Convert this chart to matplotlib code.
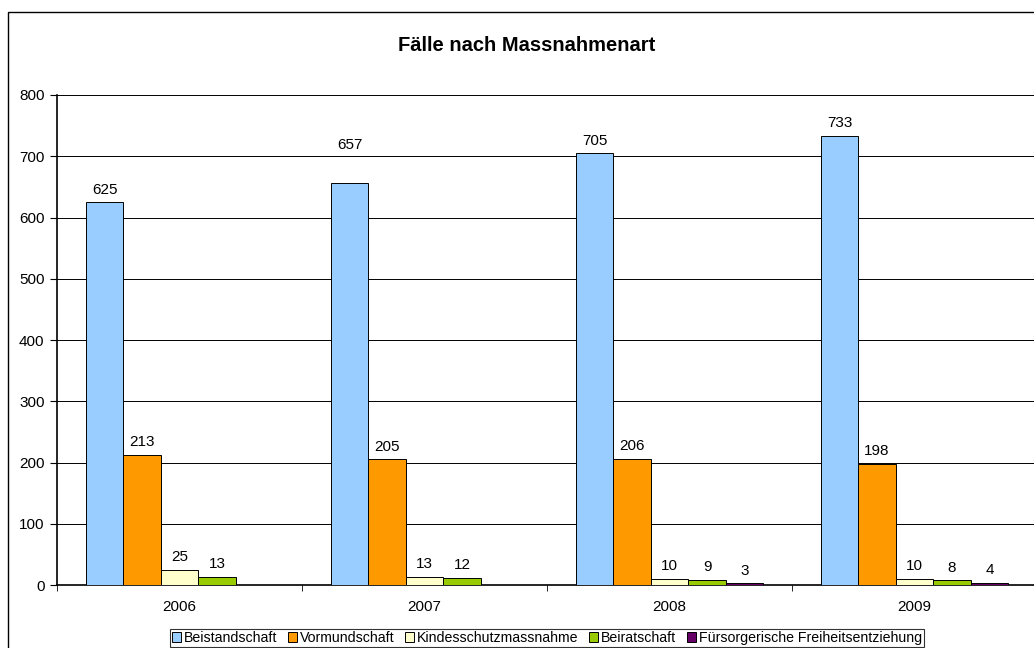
import numpy as np
import matplotlib
matplotlib.use("Agg")
import matplotlib.pyplot as plt
from matplotlib.patches import Rectangle

plt.rcParams['font.family'] = ['Liberation Sans', 'DejaVu Sans']

# data
years = ['2006', '2007', '2008', '2009']
series = ['Beistandschaft', 'Vormundschaft', 'Kindesschutzmassnahme',
          'Beiratschaft', 'Fürsorgerische Freiheitsentziehung']
beistandschaft = [625, 657, 705, 733]
vormundschaft = [213, 205, 206, 198]
kindesschutz = [25, 13, 10, 10]
beiratschaft = [13, 12, 9, 8]
ffe = [0, 0, 3, 4]
colors = ['#99CCFF', '#FF9900', '#FFFFCC', '#99CC00', '#660066']

values = [beistandschaft, vormundschaft, kindesschutz, beiratschaft, ffe]

fig = plt.figure(figsize=(10.34, 6.48), dpi=100)
# outer chart frame (cut off at right / bottom like the original)
fig.patches.append(Rectangle((0.0077, -0.05), 1.1, 1.0315, transform=fig.transFigure,
                             fill=False, edgecolor='black', linewidth=1.0))

ax = fig.add_axes([0.0551, 0.0972, 0.9479, 0.7562])
x = np.arange(len(years))
w = 0.153
for i, (name, vals) in enumerate(zip(series, values)):
    pos = x + (i - 2) * w
    ax.bar(pos, vals, width=w, color=colors[i], edgecolor='black', linewidth=0.7,
           label=name, zorder=3)
    for px, v in zip(pos, vals):
        if v == 0:
            continue
        off = 4
        if v == 657:
            off = 22  # label sits higher in the original
        ax.annotate(str(v), (px, v), xytext=(0, off), textcoords='offset points',
                    ha='center', va='bottom', fontsize=11)

ax.set_xlim(-0.5, 3.5)
ax.set_ylim(0, 800)
ax.set_yticks(range(0, 801, 100))
ax.set_xticks(x)
ax.set_xticklabels(years)
ax.set_xticks(np.arange(-0.5, 4, 1), minor=True)
ax.tick_params(axis='x', which='major', length=0, labelsize=11, pad=11)
ax.tick_params(axis='x', which='minor', length=4, direction='out')
ax.tick_params(axis='y', length=5, direction='out', labelsize=11, pad=4)
ax.grid(axis='y', color='black', linewidth=0.7, zorder=0)
ax.spines['top'].set_visible(False)
ax.spines['right'].set_visible(False)
ax.spines['left'].set_linewidth(1.2)
ax.spines['bottom'].set_linewidth(1.2)

fig.text(0.5097, 0.93, 'Fälle nach Massnahmenart', ha='center', va='center',
         fontsize=14.5, fontweight='bold')

leg = fig.legend(loc='center', bbox_to_anchor=(0.529, 0.0154), ncol=5, fontsize=10.2,
                 frameon=True, fancybox=False, edgecolor='black',
                 handlelength=0.65, handleheight=0.65, handletextpad=0.2,
                 columnspacing=0.75, borderpad=0.15, borderaxespad=0)
leg.get_frame().set_linewidth(0.8)

fig.savefig('out.png', dpi=100)
